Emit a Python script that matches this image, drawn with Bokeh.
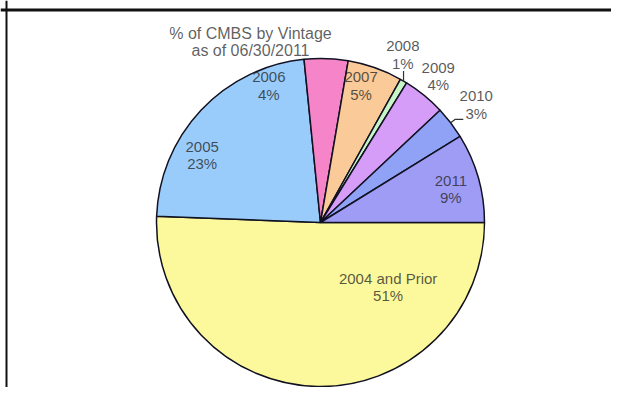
import math
from bokeh.plotting import figure
from bokeh.models import Range1d, ColumnDataSource, Span
from bokeh.core.properties import value
from bokeh.embed import file_html
from bokeh.resources import INLINE

# ---- data ----
categories = ["2004 and Prior", "2005", "2006", "2007", "2008", "2009", "2010", "2011"]
shares = [50.6, 22.8, 4.3, 5.4, 0.7, 4.2, 3.2, 8.8]
pct_labels = ["51%", "23%", "4%", "5%", "1%", "4%", "3%", "9%"]
title_lines = ["% of CMBS by Vintage", "as of 06/30/2011"]

# ---- styles / layout ----
colors = ["#FBF99B", "#99CCFA", "#F585C8", "#FACA98", "#C8F5C8", "#D59CF8", "#8FA2F6", "#9F9CF6"]
W, H = 611, 387
Y_TOP = 403
CX, CY, R = 320, 181, 164
# label placement: angle offset from slice middle (deg) and radius fraction
label_dang = [47.4, 13.6, 22.7, 2.9, 4.3, 0.4, -0.4, -1.6]
label_rf = [0.57, 0.83, 0.89, 0.87, 1.14, 1.145, 1.19, 0.82]
LINE_GAP = 8.5
FONT = "Liberation Sans"

total = sum(shares)
cum = [0.0]
for s in shares:
    cum.append(cum[-1] + s / total)

starts, ends, mids = [], [], []
for i in range(len(shares)):
    a0 = -cum[i + 1] * 2 * math.pi
    a1 = -cum[i] * 2 * math.pi
    starts.append(a0)
    ends.append(a1)
    mids.append((a0 + a1) / 2)

src = ColumnDataSource(dict(cat=categories, start=starts, end=ends, color=colors))

p = figure(width=W, height=H, x_range=Range1d(0, W), y_range=Range1d(Y_TOP - H, Y_TOP),
           output_backend="svg", toolbar_location=None, min_border=0,
           x_axis_location=None, y_axis_location=None)
p.grid.visible = False
p.outline_line_color = None
p.background_fill_color = "white"
p.border_fill_color = "white"

p.wedge(x=CX, y=CY, radius=R, start_angle="start", end_angle="end",
        fill_color="color", line_color="#111122", line_width=1.5, source=src)

# labels
yx, yy, px, py = [], [], [], []
for i in range(len(shares)):
    ang = mids[i] + math.radians(label_dang[i])
    lx = CX + label_rf[i] * R * math.cos(ang)
    ly = CY + label_rf[i] * R * math.sin(ang)
    yx.append(lx); yy.append(ly + LINE_GAP)
    px.append(lx); py.append(ly - LINE_GAP)

lab = ColumnDataSource(dict(yx=yx, yy=yy, px=px, py=py, cat=categories, pct=pct_labels))
for xs, ys, col in (("yx", "yy", "cat"), ("px", "py", "pct")):
    p.text(x=xs, y=ys, text=col, source=lab, text_align="center", text_baseline="middle",
           text_font=value(FONT), text_font_size="15px", text_color="#222222", text_alpha=0.75)

# leader lines for the small outside slices (2008, 2010)
i8 = categories.index("2008")
i10 = categories.index("2010")
ex8 = CX + R * math.cos(mids[i8]); ey8 = CY + R * math.sin(mids[i8])
ex10 = CX + R * math.cos(mids[i10]); ey10 = CY + R * math.sin(mids[i10])
kx10 = CX + 1.035 * R * math.cos(mids[i10]); ky10 = CY + 1.035 * R * math.sin(mids[i10])
p.multi_line(xs=[[ex8, ex8], [ex10, kx10, kx10 + 8]],
             ys=[[ey8, ey8 + 10], [ey10, ky10, ky10]],
             line_color="#333333", line_width=1.2)

# title
TX, TY = 250, 370
p.text(x=[TX, TX], y=[TY, TY - 17], text=title_lines, text_align="center", text_baseline="middle",
       text_font=value(FONT), text_font_size="16px", text_color="#222222", text_alpha=0.72)

# frame (top, left)
p.add_layout(Span(location=Y_TOP - 9.5, dimension="width", line_color="#111111", line_width=3))
p.add_layout(Span(location=6, dimension="height", line_color="#111111", line_width=2))

open("out.html", "w").write(file_html(p, INLINE))
